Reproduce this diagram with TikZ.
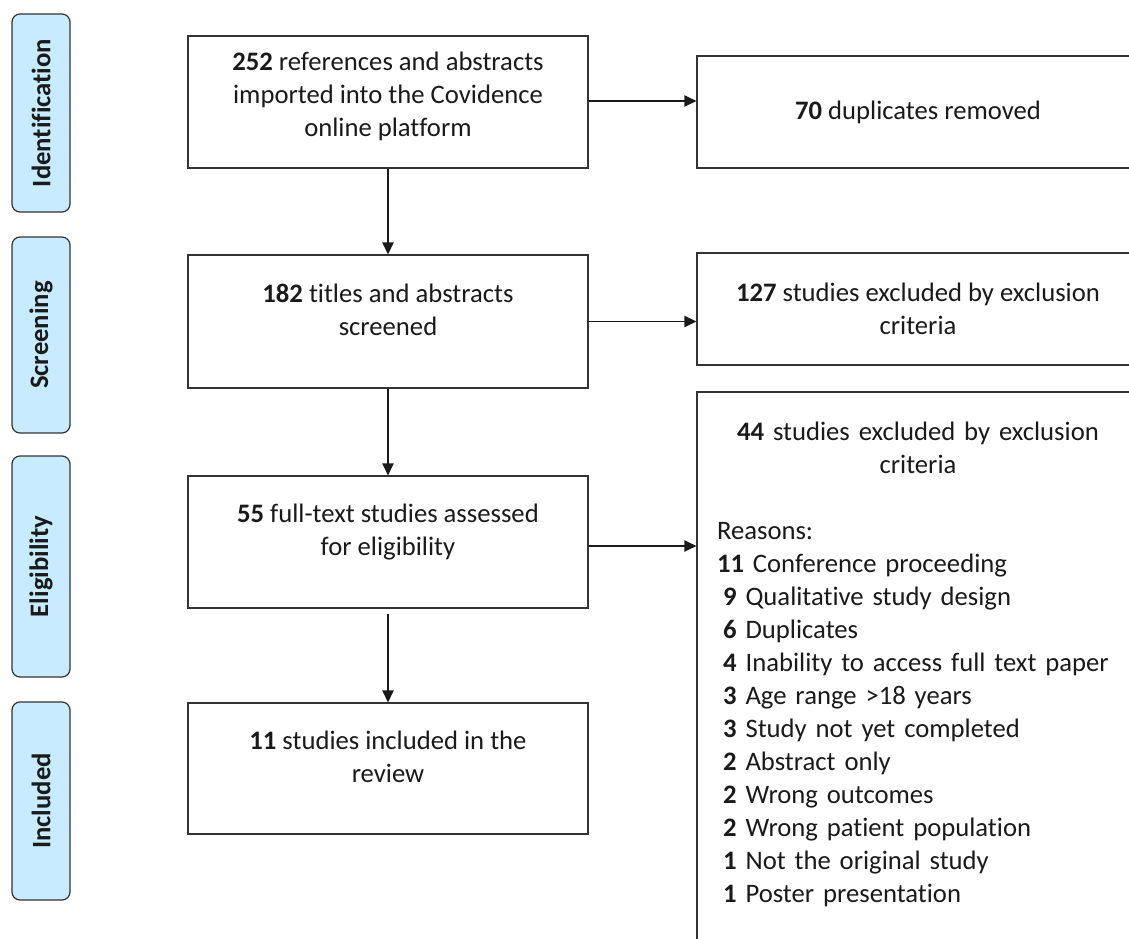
\documentclass[tikz,border=0pt]{standalone}
\usepackage{fontspec}
\setmainfont{Carlito}[Ligatures={NoCommon}]
\usetikzlibrary{arrows.meta,positioning,calc}
\definecolor{stagefill}{HTML}{C8EBFF}
\definecolor{edge}{HTML}{333333}
\definecolor{ink}{HTML}{1A1A1A}
\newcommand{\lowpad}{\rule[-18pt]{0pt}{0pt}}
\begin{document}
\begin{tikzpicture}[x=0.75pt,y=-0.75pt,
  txt/.style={font=\fontsize{20}{24.75}\selectfont, text=ink},
  mainbox/.style={txt, draw=edge, line width=0.9pt, fill=white, align=center,
    minimum width=300pt, minimum height=99pt, inner sep=0pt},
  sidebox/.style={txt, draw=edge, line width=0.9pt, fill=white, align=center,
    minimum width=331.5pt, minimum height=84pt, inner sep=0pt},
  stage/.style={draw=edge, line width=0.9pt, fill=stagefill, rounded corners=6pt,
    rotate=90, minimum height=43.5pt, inner sep=0pt,
    font=\fontsize{20}{24}\selectfont\bfseries, text=ink},
  flow/.style={draw=ink, line width=0.9pt, -{Triangle[length=9pt,width=8.5pt]}}
]
\useasboundingbox (0,0) rectangle (1129,939);
\clip (0,0) rectangle (1129,939);

% stage labels
\node[stage, minimum width=148.5pt] (sid) at (41,113) {Identification};
\node[stage, minimum width=147pt] (ssc) at (41,335) {Screening};
\node[stage, minimum width=165.75pt] (sel) at (41,566.5) {Eligibility};
\node[stage, minimum width=148.5pt] (sin) at (41,801) {Included};

% main column
\node[mainbox] (b1) at (388,102) {\textbf{252} references and abstracts\\imported into the Covidence\\online platform\rule[-11pt]{0pt}{0pt}};
\node[mainbox, minimum height=99.75pt] (b2) at (388,321.5) {\textbf{182} titles and abstracts\\screened\lowpad};
\node[mainbox] (b3) at (388,542) {\textbf{55} full-text studies assessed\\for eligibility\lowpad};
\node[mainbox, minimum height=98.25pt] (b4) at (388,768.5) {\textbf{11} studies included in the\\review\lowpad};

% side column
\node[sidebox] (r1) at (918,112) {\textbf{70} duplicates removed};
\node[sidebox] (r2) at (918,309) {\textbf{127} studies excluded by exclusion\\criteria};
\node[sidebox, minimum height=426pt] (r3) at (918,676) {};
\node[txt, anchor=north, text width=301.5pt, inner sep=0pt, align=left] (r3t) at (918,422)
{{\centering\textbf{44} studies excluded by exclusion\\criteria\par}
\vspace{24.75pt}
Reasons:\\
\textbf{11} Conference proceeding\\
\hspace*{.23em}\textbf{9} Qualitative study design\\
\hspace*{.23em}\textbf{6} Duplicates\\
\hspace*{.23em}\textbf{4} Inability to access full text paper\\
\hspace*{.23em}\textbf{3} Age range >18 years\\
\hspace*{.23em}\textbf{3} Study not yet completed\\
\hspace*{.23em}\textbf{2} Abstract only\\
\hspace*{.23em}\textbf{2} Wrong outcomes\\
\hspace*{.23em}\textbf{2} Wrong patient population\\
\hspace*{.23em}\textbf{1} Not the original study\\
\hspace*{.23em}\textbf{1} Poster presentation};

% connectors
\draw[flow] (b1) -- (b2);
\draw[flow] (b2) -- (b3);
\draw[flow] ([yshift=-4pt]b3.south) -- (b4);
\draw[flow] ([yshift=0.75pt]b1.east) -- ([yshift=0.75pt]b1.east -| r1.west);
\draw[flow] (b2.east) -- (b2.east -| r2.west);
\draw[flow] ([yshift=-3pt]b3.east) -- ([yshift=-3pt]b3.east -| r3.west);
\end{tikzpicture}
\end{document}
